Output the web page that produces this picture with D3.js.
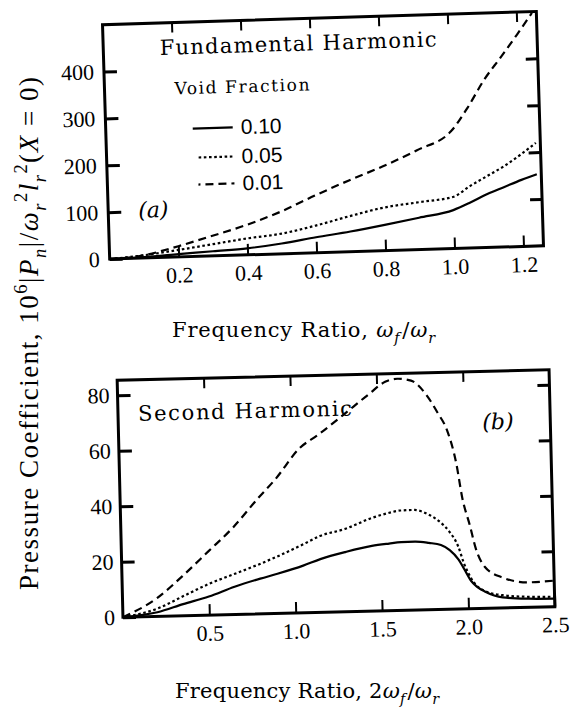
<!DOCTYPE html>
<html><head><meta charset="utf-8">
<script src="https://cdn.jsdelivr.net/npm/d3@7"></script>
<style>html,body{margin:0;padding:0;background:#fff;}</style>
</head><body>
<svg id="c" width="570" height="713" xmlns="http://www.w3.org/2000/svg"></svg>
<script>
// ---------- data ----------
const fundRatio   = [0, 0.1, 0.2, 0.3, 0.4, 0.5, 0.6, 0.7, 0.8, 0.9, 1.0, 1.05, 1.1, 1.15, 1.2, 1.245];
const fundVoid010 = [0, 2, 6, 10, 14, 22, 33, 43, 55, 68, 82, 97, 114, 128, 142, 153];
const fundVoid005 = [0, 6, 15, 25, 35, 43, 58, 76, 92, 101, 110, 132, 152, 172, 196, 220];
const fundVoid001 = [0, 6, 23, 43, 64, 90, 122, 152, 180, 212, 250, 299, 357, 404, 452, 497];

const secRatio   = [0, 0.2, 0.35, 0.5, 0.65, 0.8, 0.9, 1.05, 1.15, 1.3, 1.45, 1.55, 1.62, 1.7, 1.78, 1.85, 1.9, 1.95, 1.98, 2.02, 2.05, 2.1, 2.2, 2.35, 2.5];
const secVoid010 = [0, 1.5, 4.2, 6.7, 10, 12.7, 14.3, 17, 19.2, 21.6, 23.5, 24.2, 24.6, 24.7, 24.1, 23.2, 21.3, 17.8, 14.5, 10, 8, 6, 3.8, 3.1, 2.9];
const secVoid005 = [0, 2.8, 7, 11.2, 14.6, 18, 20.5, 24.6, 27.5, 29.9, 33.5, 35.2, 36, 36.1, 34.4, 31.4, 28, 22.5, 16.5, 11, 8.3, 6.2, 4.6, 3.8, 3.6];
const secVoid001 = [0, 6.6, 14.3, 22.8, 31.4, 41.8, 48.3, 59.6, 63.8, 70.8, 78, 82.5, 83.5, 82.7, 78, 70.8, 64.7, 52.5, 40, 30, 21.9, 15, 11, 9, 9.4];

const voidFractions = ["0.10", "0.05", "0.01"];
const fundXTicks = [0.2, 0.4, 0.6, 0.8, 1.0, 1.2];
const fundYTicks = [0, 100, 200, 300, 400];
const secXTicks  = [0.5, 1.0, 1.5, 2.0, 2.5];
const secYTicks  = [0, 20, 40, 60, 80];

// ---------- styles ----------
const lineStyles = {
  "0.10": {dash: null, w: 2.2},
  "0.05": {dash: "2.6,2.6", w: 2.2},
  "0.01": {dash: "8,5", w: 2.2}
};
const serif = "'DejaVu Serif', serif";
const tickFont = "'Liberation Serif', serif";

const svg = d3.select("#c");

function richText(parent, x, y, segs, opts) {
  const t = parent.append("text")
    .attr("x", x).attr("y", y)
    .attr("font-family", opts.family)
    .attr("font-size", opts.size)
    .attr("fill", "#000");
  if (opts.transform) t.attr("transform", opts.transform);
  if (opts.length) t.attr("textLength", opts.length).attr("lengthAdjust", "spacing");
  let cur = 0;
  segs.forEach(s => {
    const pos = s.pos || "base";
    const target = pos === "sub" ? opts.size * 0.28 : pos === "sup" ? -opts.size * 0.42 : 0;
    const ts = t.append("tspan").text(s.t);
    if (target !== cur) { ts.attr("dy", target - cur); cur = target; }
    if (s.dx) ts.attr("dx", s.dx);
    if (s.i) ts.attr("font-style", "italic");
    if (pos !== "base") ts.attr("font-size", opts.size * 0.68);
  });
  return t;
}

function drawPanel(cfg) {
  const g = svg.append("g").attr("transform", `rotate(${cfg.angle},${cfg.cx},${cfg.cy})`);
  const x = d3.scaleLinear().domain(cfg.xDomain).range([cfg.left, cfg.right]);
  const y = d3.scaleLinear().domain(cfg.yDomain).range([cfg.bottom, cfg.top]);

  const styleAxis = (a, w) => {
    a.select(".domain").remove();
    a.selectAll(".tick line").attr("stroke", "#000").attr("stroke-width", w);
    a.selectAll(".tick text").attr("font-family", tickFont).attr("font-size", 22).attr("fill", "#000");
  };

  const xb = g.append("g").attr("transform", `translate(0,${cfg.bottom})`)
    .call(d3.axisBottom(x).tickValues(cfg.xTicks).tickSize(-11).tickPadding(10).tickFormat(d3.format(".1f")));
  styleAxis(xb, 2);
  const xt = g.append("g").attr("transform", `translate(0,${cfg.top})`)
    .call(d3.axisTop(x).tickValues(cfg.xTicks.filter(v => v < cfg.xDomain[1] - 0.01)).tickSize(-10).tickFormat(""));
  styleAxis(xt, 2);
  const yl = g.append("g").attr("transform", `translate(${cfg.left},0)`)
    .call(d3.axisLeft(y).tickValues(cfg.yTicks).tickSize(-13).tickPadding(cfg.yPad).tickFormat(d3.format("d")));
  styleAxis(yl, 3);
  const yr = g.append("g").attr("transform", `translate(${cfg.right},0)`)
    .call(d3.axisRight(y).tickValues(cfg.yTicks.filter(v => v > 0)).tickSize(-12).tickFormat(""));
  styleAxis(yr, 3);

  const line = d3.line().x(d => x(d[0])).y(d => y(d[1])).curve(d3.curveMonotoneX);
  cfg.series.forEach(s => {
    const st = lineStyles[s.key];
    g.append("path")
      .attr("d", line(cfg.xs.map((v, i) => [v, s.values[i]])))
      .attr("fill", "none").attr("stroke", "#000")
      .attr("stroke-width", st.w)
      .attr("stroke-dasharray", st.dash)
      .attr("stroke-linejoin", "round");
  });

  g.append("rect")
    .attr("x", cfg.left).attr("y", cfg.top)
    .attr("width", cfg.right - cfg.left).attr("height", cfg.bottom - cfg.top)
    .attr("fill", "none").attr("stroke", "#000").attr("stroke-width", 3);
  return g;
}

// ---------- panel (a) ----------
const gA = drawPanel({
  angle: -1.75, cx: 323, cy: 135.3,
  left: 106, right: 540, top: 18, bottom: 252.5,
  xDomain: [0, 1.258], yDomain: [0, 500],
  xTicks: fundXTicks, yTicks: fundYTicks, yPad: 10,
  xs: fundRatio,
  series: [
    {key: "0.10", values: fundVoid010},
    {key: "0.05", values: fundVoid005},
    {key: "0.01", values: fundVoid001}
  ]
});
gA.append("text").attr("x", 162.5).attr("y", 50)
  .attr("font-family", serif).attr("font-size", 21)
  .attr("textLength", 277).attr("lengthAdjust", "spacing")
  .text("Fundamental  Harmonic");
gA.append("text").attr("x", 176).attr("y", 90)
  .attr("font-family", serif).attr("font-size", 17)
  .attr("textLength", 135).attr("lengthAdjust", "spacing")
  .text("Void  Fraction");
const legY = [124.6, 153.7, 180.7];
const legX0 = [193, 198, 197];
voidFractions.forEach((k, i) => {
  const st = lineStyles[k];
  gA.append("line").attr("x1", legX0[i]).attr("x2", 233).attr("y1", legY[i]).attr("y2", legY[i])
    .attr("stroke", "#000").attr("stroke-width", st.w)
    .attr("stroke-dasharray", st.dash)
    .attr("stroke-dashoffset", k === "0.01" ? 6 : 0);
  gA.append("text").attr("x", 241).attr("y", legY[i] + 7)
    .attr("font-family", "'Liberation Sans', sans-serif").attr("font-size", 21)
    .text(k);
});
gA.append("text").attr("x", 136).attr("y", 212)
  .attr("font-family", serif).attr("font-size", 22).attr("font-style", "italic")
  .text("(a)");

// ---------- panel (b) ----------
const gB = drawPanel({
  angle: -1.4, cx: 336, cy: 493.5,
  left: 120, right: 552, top: 375, bottom: 612,
  xDomain: [0, 2.5], yDomain: [0, 85.4],
  xTicks: secXTicks, yTicks: secYTicks, yPad: 8,
  xs: secRatio,
  series: [
    {key: "0.10", values: secVoid010},
    {key: "0.05", values: secVoid005},
    {key: "0.01", values: secVoid001}
  ]
});
gB.append("text").attr("x", 140).attr("y", 416)
  .attr("font-family", serif).attr("font-size", 21)
  .attr("textLength", 214).attr("lengthAdjust", "spacing")
  .text("Second  Harmonic");
gB.append("text").attr("x", 484).attr("y", 433)
  .attr("font-family", serif).attr("font-size", 22).attr("font-style", "italic")
  .text("(b)");

// ---------- axis titles ----------
richText(svg, 172, 337, [
  {t: "Frequency Ratio, "}, {t: "ω", i: 1}, {t: "f", i: 1, pos: "sub"},
  {t: "/", dx: 2}, {t: "ω", i: 1}, {t: "r", i: 1, pos: "sub"}
], {family: serif, size: 21, length: 263});

richText(svg, 175, 698, [
  {t: "Frequency Ratio, 2"}, {t: "ω", i: 1}, {t: "f", i: 1, pos: "sub"},
  {t: "/", dx: 2}, {t: "ω", i: 1}, {t: "r", i: 1, pos: "sub"}
], {family: serif, size: 21, length: 264});

richText(svg, 0, 0, [
  {t: "Pressure Coefficient, 10"}, {t: "6", pos: "sup"}, {t: "|"},
  {t: "P", i: 1}, {t: "n", i: 1, pos: "sub"}, {t: "|/"},
  {t: "ω", i: 1}, {t: "r", i: 1, pos: "sub"}, {t: "2", pos: "sup"},
  {t: "l", i: 1}, {t: "r", i: 1, pos: "sub"}, {t: "2", pos: "sup"},
  {t: "("}, {t: "X", i: 1}, {t: " = 0)"}
], {family: "'Liberation Serif', serif", size: 27, length: 513, transform: "translate(38,590) rotate(-90)"});
</script>
</body></html>
